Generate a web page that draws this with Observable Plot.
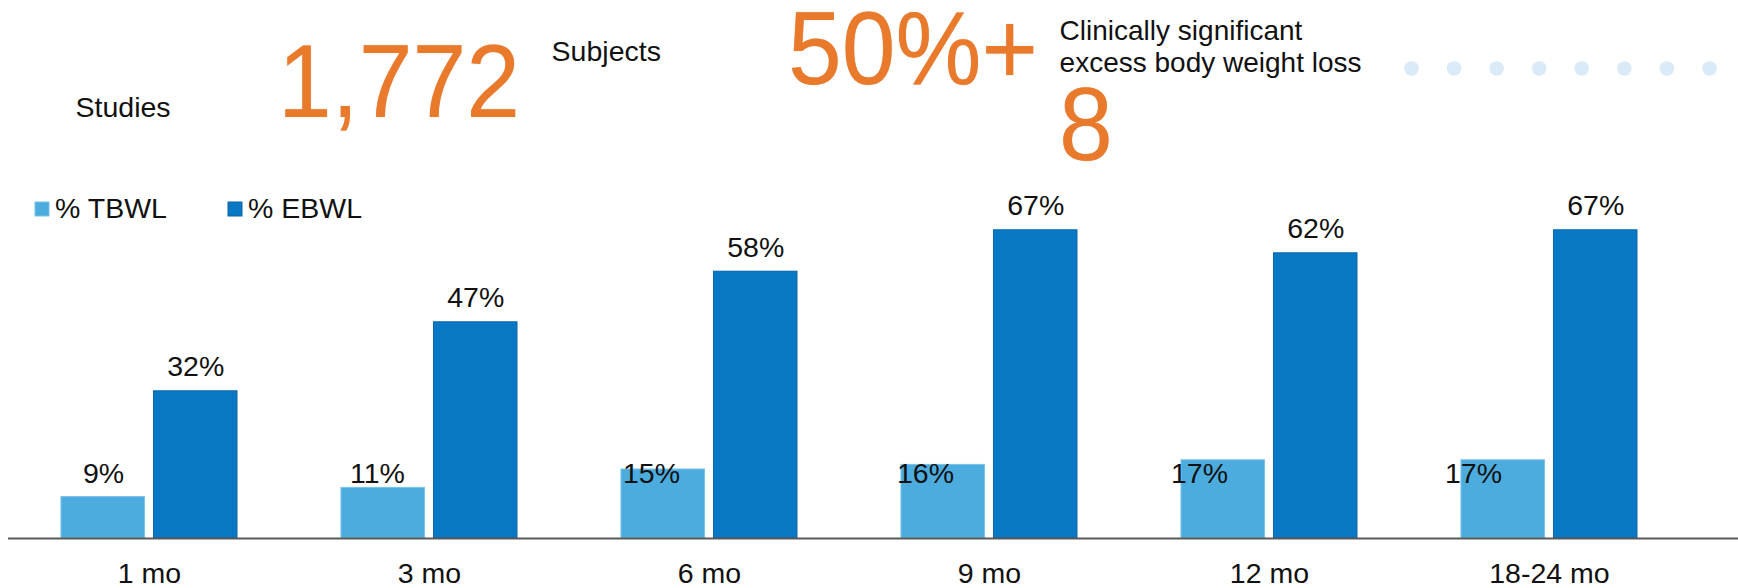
<!DOCTYPE html>
<html>
<head>
<meta charset="utf-8">
<script src="https://cdn.jsdelivr.net/npm/d3@7"></script>
<script src="https://cdn.jsdelivr.net/npm/@observablehq/plot@0.6"></script>
<style>
  html, body { margin: 0; padding: 0; background: #fff; }
  #page {
    position: relative; width: 1738px; height: 588px; overflow: hidden;
    font-family: "Liberation Sans", Arial, sans-serif; color: #111;
  }
  #page > svg { position: absolute; left: 0; top: 0; }
  .abs { position: absolute; white-space: nowrap; line-height: 1; }
  .big {
    font-size: 104px; line-height: 0.8; color: #E97A2C; transform: scaleX(0.93); transform-origin: 0 0;
    text-shadow: 0 0 1px rgba(170, 80, 20, 0.45);
  }
  .small { font-size: 28.5px; }
  #page .lg-swatches { position: absolute; left: 35px; top: 192px; margin: 0; }
  #page .lg-swatch { margin-right: 0; width: 193px; }
  #page .lg-swatch svg { margin-right: 6px; }
  #dots { position: absolute; left: 1401px; top: 53px; }
</style>
</head>
<body>
<div id="page">
  <div class="abs small" style="left:75.5px; top:92.6px;">Studies</div>
  <div class="abs big" style="left:277.5px; top:39.7px;">1,772</div>
  <div class="abs small" style="left:551.6px; top:36.6px;">Subjects</div>
  <div class="abs big" style="left:788px; top:7.4px;">50%+</div>
  <div class="abs" style="left:1059.6px; top:15.2px; font-size:28px; line-height:32.3px;">Clinically significant<br>excess body weight loss</div>
  <div class="abs big" style="left:1058.6px; top:83.1px;">8</div>
</div>
<script>
// Follow-up periods and mean weight loss per period
const periods = ["1 mo", "3 mo", "6 mo", "9 mo", "12 mo", "18-24 mo"];
const tbwl = [9, 11, 15, 16, 17, 17];   // % total body weight loss
const ebwl = [32, 47, 58, 67, 62, 67];  // % excess body weight loss

const seriesNames = ["% TBWL", "% EBWL"];
const seriesFill = ["#4DACDE", "#0878C4"];
const seriesStroke = ["#78C1E9", "#0A62A8"];

// decorative dot strip in the header
const dotSlots = [0, 1, 2, 3, 4, 5, 6, 7];

const tbwlRows = periods.map((period, i) => ({period, value: tbwl[i]}));
const ebwlRows = periods.map((period, i) => ({period, value: ebwl[i]}));

const fontFamily = '"Liberation Sans", Arial, sans-serif';
const pct = d => `${d.value}%`;

const page = document.getElementById("page");

// Grouped bars: each period band holds the TBWL bar (left) and the EBWL bar (right)
const chart = Plot.plot({
  width: 1738,
  height: 588,
  marginTop: 216,
  marginBottom: 50,
  marginLeft: 8,
  marginRight: 0,
  style: {background: "transparent", fontFamily, fontSize: "28.5px", color: "#111", overflow: "visible"},
  x: {
    domain: periods,
    paddingInner: 0.3714,
    paddingOuter: 0.275,
    align: 0.344,
    round: false,
    axis: "bottom",
    tickSize: 0,
    tickPadding: 24,
    label: null
  },
  y: {domain: [0, 70], axis: null},
  marks: [
    Plot.barY(tbwlRows, {
      x: "period", y: "value",
      fill: seriesFill[0], stroke: seriesStroke[0], strokeWidth: 1,
      insetRight: 92.5
    }),
    Plot.barY(ebwlRows, {
      x: "period", y: "value",
      fill: seriesFill[1], stroke: seriesStroke[1], strokeWidth: 1,
      insetLeft: 92.5
    }),
    Plot.ruleY([0], {stroke: "#595959", strokeWidth: 2}),
    Plot.text(ebwlRows, {
      x: "period", y: "value", text: pct,
      dx: 46.25, dy: -15, lineAnchor: "bottom", fill: "#111"
    })
  ]
});
page.appendChild(chart);

// TBWL value labels sit on a common baseline, on a slightly tighter grid
const tbwlLabels = Plot.plot({
  width: 1738,
  height: 588,
  marginTop: 0,
  marginBottom: 105.3,
  marginLeft: 103,
  marginRight: 264.5,
  style: {background: "transparent", fontFamily, fontSize: "28.5px", color: "#111", overflow: "visible"},
  x: {type: "point", domain: periods, padding: 0, axis: null},
  marks: [
    Plot.text(tbwlRows, {
      x: "period", text: pct, frameAnchor: "bottom", lineAnchor: "bottom", fill: "#111"
    })
  ]
});
page.appendChild(tbwlLabels);

// Series legend
const legend = Plot.legend({
  color: {domain: seriesNames, range: seriesFill},
  legend: "swatches",
  swatchSize: 14,
  className: "lg",
  style: {fontFamily, fontSize: "28.5px", color: "#111"}
});
page.appendChild(legend);
legend.querySelectorAll("svg rect").forEach((r, i) => {
  r.setAttribute("stroke", seriesStroke[i]);
  r.setAttribute("stroke-width", 1);
});

// Light-blue dot strip to the right of the headline figures
const dots = Plot.plot({
  width: 330,
  height: 30,
  margin: 0,
  marginLeft: 10,
  marginRight: 22,
  style: {background: "transparent", overflow: "visible"},
  x: {domain: [0, 7], axis: null},
  marks: [
    Plot.dot(dotSlots, {x: d => d, frameAnchor: "middle", r: 7.3, fill: "#DAEAF7"})
  ]
});
const dotsWrap = document.createElement("div");
dotsWrap.id = "dots";
dotsWrap.appendChild(dots);
page.appendChild(dotsWrap);
</script>
</body>
</html>
